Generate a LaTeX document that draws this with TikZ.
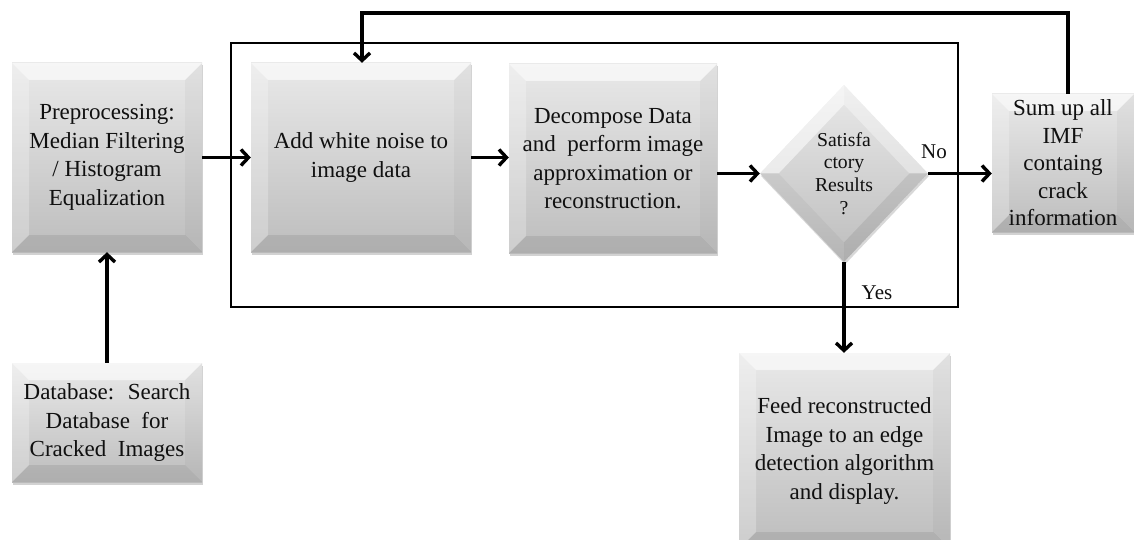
\documentclass[tikz,border=0pt]{standalone}
\usepackage{fontspec}
\setmainfont{Liberation Serif}
\usetikzlibrary{arrows.meta,calc,shadows,shapes.geometric}

\definecolor{facetop}{HTML}{E9E9E9}
\definecolor{facebot}{HTML}{BDBDBD}
\definecolor{ink}{HTML}{101010}

\def\pb{path picture bounding box}
\def\bw{17pt}

\tikzset{
  bevelbox/.style={
    rectangle, inner sep=0pt, align=center, text=ink,
    font=\fontsize{23}{28.5}\selectfont,
    top color=facetop, bottom color=facebot,
    drop shadow={shadow xshift=1pt, shadow yshift=-2.5pt, opacity=.35},
    path picture={
      % top facet
      \fill[white,opacity=.6] (\pb.north west) -- (\pb.north east)
        -- ([xshift=-\bw,yshift=-\bw]\pb.north east)
        -- ([xshift=\bw,yshift=-\bw]\pb.north west) -- cycle;
      % left facet
      \fill[white,opacity=.25] (\pb.north west) -- (\pb.south west)
        -- ([xshift=\bw,yshift=\bw]\pb.south west)
        -- ([xshift=\bw,yshift=-\bw]\pb.north west) -- cycle;
      % right facet
      \fill[black,opacity=.03] (\pb.north east) -- (\pb.south east)
        -- ([xshift=-\bw,yshift=\bw]\pb.south east)
        -- ([xshift=-\bw,yshift=-\bw]\pb.north east) -- cycle;
      % bottom facet
      \fill[black,opacity=.08] (\pb.south west) -- (\pb.south east)
        -- ([xshift=-\bw,yshift=\bw]\pb.south east)
        -- ([xshift=\bw,yshift=\bw]\pb.south west) -- cycle;
    }},
  decision/.style={
    diamond, inner sep=0pt, align=center, text=ink,
    font=\fontsize{19.7}{22.8}\selectfont,
    top color=facetop, bottom color=facebot,
    drop shadow={shadow xshift=1pt, shadow yshift=-2.5pt, opacity=.3},
    path picture={
      \coordinate (dc) at (\pb.center);
      \coordinate (dn) at ($(dc)!.78!(\pb.north)$);
      \coordinate (de) at ($(dc)!.78!(\pb.east)$);
      \coordinate (ds) at ($(dc)!.78!(\pb.south)$);
      \coordinate (dw) at ($(dc)!.78!(\pb.west)$);
      \fill[white,opacity=.55] (\pb.north) -- (\pb.west) -- (dw) -- (dn) -- cycle;
      \fill[white,opacity=.35] (\pb.north) -- (\pb.east) -- (de) -- (dn) -- cycle;
      \fill[black,opacity=.04] (\pb.west) -- (\pb.south) -- (ds) -- (dw) -- cycle;
      \fill[black,opacity=.08] (\pb.east) -- (\pb.south) -- (ds) -- (de) -- cycle;
    }},
  conn/.style={line width=3.4pt, draw=black,
    -{Straight Barb[length=7.5pt,width=16pt]}},
  loopframe/.style={draw=black, line width=2.6pt, rectangle, inner sep=0pt},
  tag/.style={font=\fontsize{21}{24}\selectfont, text=ink, inner sep=0pt},
}

\begin{document}
\begin{tikzpicture}[x=1pt,y=-1pt]
  \clip (0,0) rectangle (1134,540);
  \useasboundingbox (0,0) rectangle (1134,540);
  \fill[white] (0,0) rectangle (1134,540);

  % iteration frame
  \node[loopframe, minimum width=727pt, minimum height=264pt] (frame) at (594.5,175) {};

  % process steps
  \node[bevelbox, minimum width=190pt, minimum height=189pt] (pre) at (107,157.5)
    {Preprocessing:\\Median Filtering\\/ Histogram\\Equalization};
  \node[bevelbox, minimum width=190pt, minimum height=119pt] (db) at (107,422.5)
    {Database: \ Search\\Database \ for\\Cracked \ Images};
  \node[bevelbox, minimum width=220pt, minimum height=189pt] (add) at (361,157.5)
    {Add white noise to\\image data};
  \node[bevelbox, minimum width=208pt, minimum height=189pt] (dec) at (613,158.5)
    {Decompose Data\\and \ perform image\\approximation or\\reconstruction.};
  \node[decision, minimum width=168pt, minimum height=177pt, aspect=0.95] (dia) at (844,173.5)
    {Satisfa\\ctory\\Results\\?};
  \node[bevelbox, minimum width=142pt, minimum height=138pt,
        font=\fontsize{23}{27.5}\selectfont] (sum) at (1063,163)
    {Sum up all\\IMF\\containg\\crack\\information};
  \node[bevelbox, minimum width=211pt, minimum height=196pt] (feed) at (844.5,451)
    {Feed reconstructed\\Image to an edge\\detection algorithm\\and display.};

  % flow
  \draw[conn] (db.north) -- (pre.south);
  \draw[conn] (pre.east) -- (pre.east -| add.west);
  \draw[conn] (add.east) -- (add.east -| dec.west);
  \draw[conn] (dec.east |- dia.west) -- (dia.west);
  \draw[conn] (dia.east) -- (dia.east -| sum.west);
  \draw[conn] (dia.south) -- (dia.south |- feed.north);

  % feedback to the noise step
  \coordinate (backR) at (1068,13);
  \coordinate (backL) at (362,13);
  \draw[conn] (backR |- sum.north) -- (backR) -- (backL) -- (backL |- add.north);

  % branch labels
  \node[tag] (no) at (934,152) {No};
  \node[tag] (yes) at (877,293) {Yes};
\end{tikzpicture}
\end{document}
